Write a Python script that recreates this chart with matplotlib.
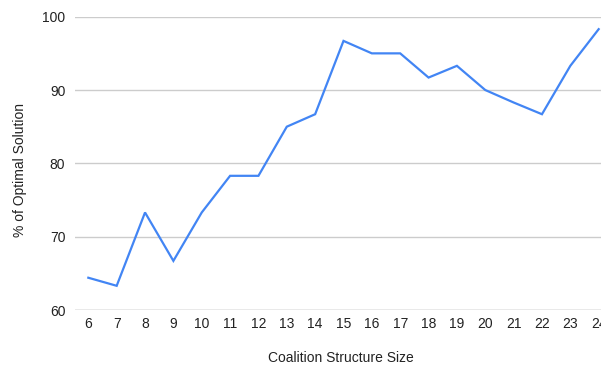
import matplotlib
matplotlib.use("Agg")
import matplotlib.pyplot as plt

# coalition structure size vs. quality of the found solution
sizes = [6, 7, 8, 9, 10, 11, 12, 13, 14, 15, 16, 17, 18, 19, 20, 21, 22, 23, 24]
pct_optimal = [64.4, 63.3, 73.3, 66.7, 73.3, 78.3, 78.3, 85.0, 86.7, 96.7,
               95.0, 95.0, 91.7, 93.3, 90.0, 88.3, 86.7, 93.3, 98.3]
y_ticks = [60, 70, 80, 90, 100]

plt.rcParams["font.family"] = ["Liberation Sans", "DejaVu Sans"]

fig = plt.figure(figsize=(6.01, 3.68), dpi=100)
W, H = 601, 368
left, right, top, bottom = 75, 612, 16.7, 310
ax = fig.add_axes([left / W, (H - bottom) / H, (right - left) / W, (bottom - top) / H])

ax.plot(sizes, pct_optimal, color="#4285F4", linewidth=1.6, solid_joinstyle="miter")

ax.set_xlim(5.53, 24.47)
ax.set_ylim(60, 100)
ax.set_xticks(sizes)
ax.set_yticks(y_ticks)

for s in ax.spines.values():
    s.set_visible(False)
ax.grid(axis="y", color="#cccccc", linewidth=1.0)
ax.axhline(60, color="#b8b8b8", linewidth=1.0, zorder=0.5)
ax.set_axisbelow(True)
ax.tick_params(length=0, labelsize=10, colors="#222222")
ax.tick_params(axis="x", pad=5)
ax.tick_params(axis="y", pad=7)

ax.set_xlabel("Coalition Structure Size", fontsize=10, color="#222222")
ax.set_ylabel("% of Optimal Solution", fontsize=10, color="#222222")
ax.xaxis.set_label_coords((341 - left) / (right - left), -(358 - bottom) / (bottom - top))
ax.yaxis.set_label_coords((20 - left) / (right - left), (bottom - 170) / (bottom - top))
ax.xaxis.label.set_va("center")
ax.yaxis.label.set_va("center")

fig.savefig("out.png", dpi=100)
plt.close(fig)
